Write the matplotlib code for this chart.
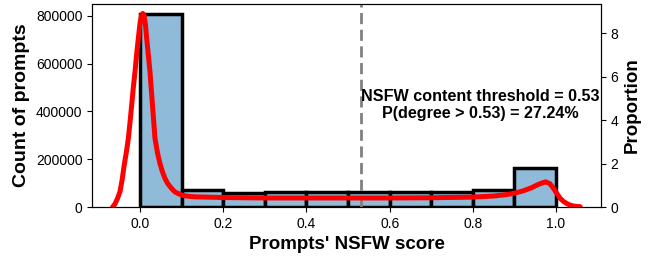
import matplotlib
matplotlib.use("Agg")
import matplotlib.pyplot as plt

plt.rcParams["font.family"] = ["Liberation Sans", "DejaVu Sans"]

# histogram of NSFW scores (bin edges and counts)
bin_edges = [0.0, 0.1, 0.2, 0.3, 0.4, 0.5, 0.6, 0.7, 0.8, 0.9, 1.0]
counts = [808000, 71000, 60000, 63000, 65000, 64000, 63000, 64000, 73000, 162000]

# density curve (right axis, proportion)
kde_x = [-0.066, -0.060, -0.054, -0.048, -0.043, -0.038, -0.033, -0.028, -0.024,
         -0.020, -0.016, -0.012, -0.008, -0.004, 0.000, 0.0035, 0.0065, 0.010,
         0.013, 0.016, 0.020, 0.024, 0.030, 0.036, 0.042, 0.048, 0.054, 0.060,
         0.066, 0.072, 0.078, 0.084, 0.092, 0.100, 0.108, 0.12, 0.135, 0.16,
         0.2, 0.3, 0.4, 0.5, 0.6, 0.7, 0.8, 0.85, 0.88, 0.9, 0.92, 0.94, 0.955,
         0.965, 0.975, 0.985, 0.994, 1.002, 1.01, 1.018, 1.026, 1.034, 1.042,
         1.05, 1.058]
kde_y = [0.0, 0.15, 0.4, 0.72, 1.25, 1.93, 2.5, 3.16, 3.9,
         4.69, 5.5, 6.22, 7.05, 7.76, 8.45, 8.8, 8.9, 8.8,
         8.4, 7.76, 7.0, 6.22, 4.69, 3.16, 2.5, 2.0, 1.62, 1.32,
         1.1, 0.95, 0.81, 0.70, 0.62, 0.56, 0.52, 0.49, 0.47, 0.46,
         0.44, 0.42, 0.42, 0.42, 0.42, 0.43, 0.46, 0.51, 0.57, 0.64, 0.74, 0.88, 1.02,
         1.1, 1.16, 1.08, 0.86, 0.62, 0.40, 0.26, 0.16, 0.09, 0.05,
         0.03, 0.02]

threshold = 0.53
p_above = 27.24

fig, ax = plt.subplots(figsize=(6.49, 2.56), dpi=100)
fig.subplots_adjust(left=0.142, right=0.926, top=0.984, bottom=0.191)

widths = [bin_edges[i + 1] - bin_edges[i] for i in range(len(counts))]
ax.bar(bin_edges[:-1], counts, width=widths, align="edge",
       color="#8FBBD9", edgecolor="black", linewidth=2.5, zorder=2)
ax.axvline(threshold, color="grey", linestyle="--", linewidth=2,
           dashes=(4, 2), zorder=3)
ax.text(0.817, 427000,
        f"NSFW content threshold = {threshold}\nP(degree > {threshold}) = {p_above}%",
        ha="center", va="center", fontsize=11.6, fontweight="bold", zorder=5)

ax.set_xlim(-0.115, 1.108)
ax.set_ylim(0, 849000)
ax.set_yticks([0, 200000, 400000, 600000, 800000])
ax.set_xticks([0.0, 0.2, 0.4, 0.6, 0.8, 1.0])
ax.set_xlabel("Prompts' NSFW score", fontsize=13.5, fontweight="bold")
ax.set_ylabel("Count of prompts", fontsize=14, fontweight="bold")
ax.tick_params(labelsize=10)

ax2 = ax.twinx()
ax2.plot(kde_x, kde_y, color="red", linewidth=3.6, solid_capstyle="round",
         solid_joinstyle="round", zorder=4)
ax2.set_ylim(0, 9.33)
ax2.set_yticks([0, 2, 4, 6, 8])
ax2.set_ylabel("Proportion", fontsize=13.5, fontweight="bold")
ax2.tick_params(labelsize=10)

fig.savefig("out.png", dpi=100)
